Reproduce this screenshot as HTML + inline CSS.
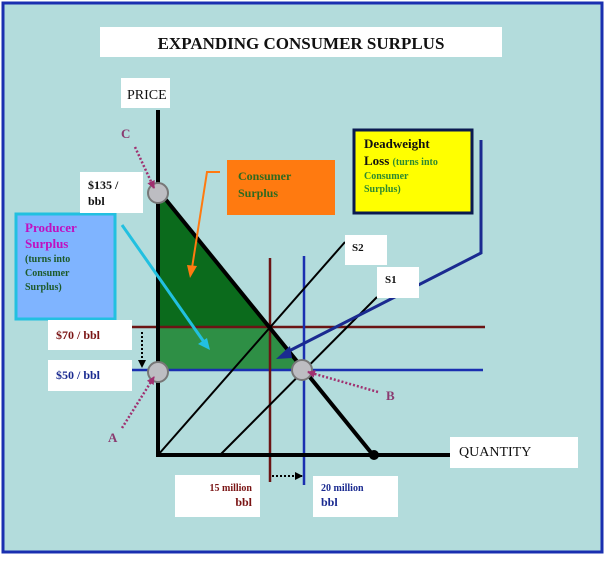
<!DOCTYPE html>
<html><head><style>
body{margin:0;width:605px;height:556px;overflow:hidden;background:#fff}
svg text{font-family:"Liberation Serif",serif;font-weight:bold}
</style></head><body>
<svg width="605" height="556" xmlns="http://www.w3.org/2000/svg">
<defs>
<marker id="ab" markerUnits="userSpaceOnUse" markerWidth="8" markerHeight="8" refX="7" refY="4" orient="auto"><path d="M0,0L8,4L0,8z" fill="#000"/></marker>
<marker id="ap" markerUnits="userSpaceOnUse" markerWidth="8" markerHeight="8" refX="7" refY="4" orient="auto"><path d="M0,0L8,4L0,8z" fill="#a03070"/></marker>
</defs>
<rect x="3" y="3" width="599" height="549" fill="#b3dcdc" stroke="#1a2fb0" stroke-width="3"/>
<rect x="100" y="27" width="402" height="30" fill="#fff"/>
<text x="301" y="49" font-size="17" text-anchor="middle" fill="#111">EXPANDING CONSUMER SURPLUS</text>
<rect x="121" y="78" width="49" height="30" fill="#fff"/>
<text x="127" y="99" font-size="14" style="font-weight:normal" fill="#111">PRICE</text>
<polygon points="158,193 158,327 270,327" fill="#0b6b1c"/>
<polygon points="158,327 270,327 304,370 158,370" fill="#2e8f45"/>
<line x1="127" y1="327" x2="485" y2="327" stroke="#6b1414" stroke-width="2.5"/>
<line x1="130" y1="370" x2="483" y2="370" stroke="#1a2fb0" stroke-width="2.5"/>
<line x1="270" y1="258" x2="270" y2="482" stroke="#6b1414" stroke-width="2.5"/>
<line x1="304" y1="256" x2="304" y2="485" stroke="#1a2fb0" stroke-width="2.5"/>
<line x1="158" y1="455" x2="345" y2="242" stroke="#000" stroke-width="2"/>
<line x1="220" y1="455" x2="377" y2="297" stroke="#000" stroke-width="2"/>
<line x1="158" y1="110" x2="158" y2="456" stroke="#000" stroke-width="4"/>
<line x1="156" y1="455" x2="450" y2="455" stroke="#000" stroke-width="4"/>
<line x1="158" y1="190" x2="373" y2="455" stroke="#000" stroke-width="4"/>
<circle cx="374" cy="455" r="5" fill="#000"/>
<polyline points="481,140 481,253 285,353" fill="none" stroke="#1a2a90" stroke-width="3"/>
<polygon points="276,359 290,346 292,358" fill="#1a2a90"/>
<circle cx="158" cy="193" r="10" fill="#bdbdc2" stroke="#777" stroke-width="2"/>
<circle cx="158" cy="372" r="10" fill="#bdbdc2" stroke="#777" stroke-width="2"/>
<circle cx="302" cy="370" r="10" fill="#bdbdc2" stroke="#777" stroke-width="2"/>
<rect x="354" y="130" width="118" height="83" fill="#ffff00" stroke="#0b1a50" stroke-width="3"/>
<text x="364" y="148" font-size="13" fill="#111">Deadweight</text>
<text x="364" y="165" font-size="13" fill="#111">Loss <tspan font-size="10" fill="#2f8a2f">(turns into</tspan></text>
<text x="364" y="179" font-size="10" fill="#2f8a2f">Consumer</text>
<text x="364" y="192" font-size="10" fill="#2f8a2f">Surplus)</text>
<rect x="227" y="160" width="108" height="55" fill="#ff7a10"/>
<text x="238" y="180" font-size="12" fill="#2f6a1f">Consumer</text>
<text x="238" y="197" font-size="12" fill="#2f6a1f">Surplus</text>
<polyline points="220,172 207,172 192,268" fill="none" stroke="#ff7a10" stroke-width="2"/>
<polygon points="187,265 197,266 190,278" fill="#ff7a10"/>
<rect x="16" y="214" width="99" height="105" fill="#7fb4ff" stroke="#22c0e0" stroke-width="3"/>
<text x="25" y="232" font-size="13" fill="#c010c0">Producer</text>
<text x="25" y="248" font-size="13" fill="#c010c0">Surplus</text>
<text x="25" y="262" font-size="10" fill="#1d5a2a">(turns into</text>
<text x="25" y="276" font-size="10" fill="#1d5a2a">Consumer</text>
<text x="25" y="290" font-size="10" fill="#1d5a2a">Surplus)</text>
<line x1="122" y1="225" x2="204" y2="342" stroke="#22c0e0" stroke-width="3"/>
<polygon points="210,350 198,344 207,338" fill="#22c0e0"/>
<rect x="80" y="172" width="63" height="41" fill="#fff"/>
<text x="88" y="189" font-size="12" fill="#111">$135 /</text>
<text x="88" y="205" font-size="12" fill="#111">bbl</text>
<rect x="48" y="320" width="84" height="30" fill="#fff"/>
<text x="56" y="339" font-size="12" fill="#7a1414">$70 / bbl</text>
<rect x="48" y="360" width="84" height="31" fill="#fff"/>
<text x="56" y="379" font-size="12" fill="#1a2a90">$50 / bbl</text>
<line x1="142" y1="332" x2="142" y2="367" stroke="#000" stroke-width="2" stroke-dasharray="2,2" marker-end="url(#ab)"/>
<rect x="345" y="235" width="42" height="30" fill="#fff"/>
<text x="352" y="251" font-size="11" fill="#111">S2</text>
<rect x="377" y="267" width="42" height="31" fill="#fff"/>
<text x="385" y="283" font-size="11" fill="#111">S1</text>
<rect x="450" y="437" width="128" height="31" fill="#fff"/>
<text x="459" y="456" font-size="14" style="font-weight:normal" fill="#111">QUANTITY</text>
<rect x="175" y="475" width="85" height="42" fill="#fff"/>
<text x="252" y="491" font-size="10" text-anchor="end" fill="#7a1414">15 million</text>
<text x="252" y="506" font-size="12" text-anchor="end" fill="#7a1414">bbl</text>
<rect x="313" y="476" width="85" height="41" fill="#fff"/>
<text x="321" y="491" font-size="10" fill="#1a2a90">20 million</text>
<text x="321" y="506" font-size="12" fill="#1a2a90">bbl</text>
<line x1="272" y1="476" x2="302" y2="476" stroke="#000" stroke-width="2" stroke-dasharray="2,2" marker-end="url(#ab)"/>
<text x="121" y="138" font-size="13" fill="#8a3a70">C</text>
<line x1="135" y1="147" x2="154" y2="188" stroke="#a03070" stroke-width="2.5" stroke-dasharray="2,2" marker-end="url(#ap)"/>
<text x="108" y="442" font-size="13" fill="#8a3a70">A</text>
<line x1="122" y1="428" x2="154" y2="377" stroke="#a03070" stroke-width="2.5" stroke-dasharray="2,2" marker-end="url(#ap)"/>
<text x="386" y="400" font-size="13" fill="#8a3a70">B</text>
<line x1="378" y1="392" x2="308" y2="372" stroke="#a03070" stroke-width="2.5" stroke-dasharray="2,2" marker-end="url(#ap)"/>
</svg>
</body></html>
